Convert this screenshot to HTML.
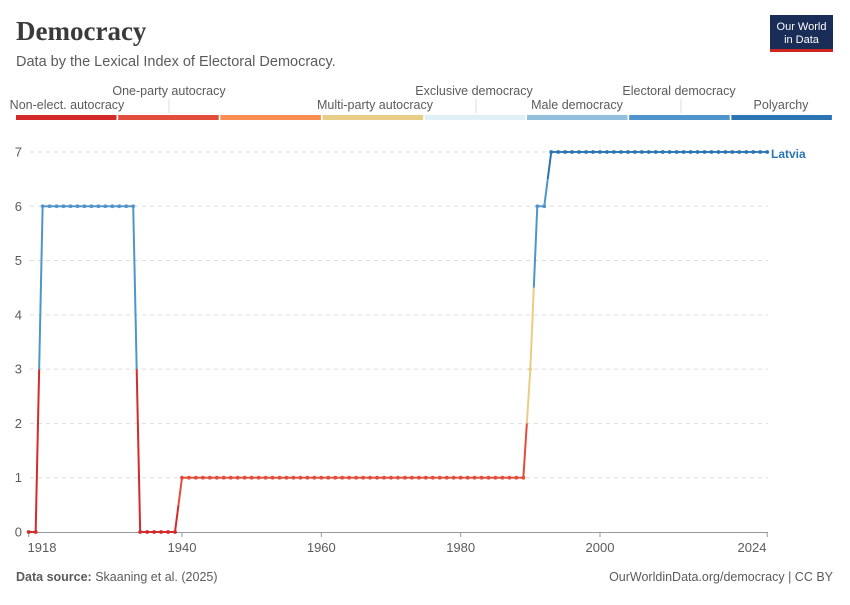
<!DOCTYPE html>
<html><head><meta charset="utf-8"><style>
body{margin:0;background:#fff;}
svg text{font-family:"Liberation Sans",sans-serif;}
</style></head><body>
<svg width="850" height="600" viewBox="0 0 850 600">
<text x="16" y="40" font-family="Liberation Serif" font-size="27" font-weight="bold" fill="#3a3a3a" style="font-family:'Liberation Serif',serif">Democracy</text>
<text x="16" y="66" font-size="14.5" fill="#5b5b5b">Data by the Lexical Index of Electoral Democracy.</text>
<g>
<rect x="770" y="15" width="63" height="37" fill="#1a2d57"/>
<rect x="770" y="49" width="63" height="3" fill="#ce261e"/>
<text x="801.5" y="30" font-size="11" fill="#fff" text-anchor="middle">Our World</text>
<text x="801.5" y="43" font-size="11" fill="#fff" text-anchor="middle">in Data</text>
</g>
<g id="legend"></g>
<g id="grid"></g>
<g id="yaxis"></g>
<g id="xaxis"></g>
<g id="series"></g>
<text x="771" y="158" font-size="12" font-weight="bold" fill="#2c75b4">Latvia</text>
<text x="16" y="581" font-size="12.5" fill="#5b5b5b"><tspan font-weight="bold">Data source:</tspan> Skaaning et al. (2025)</text>
<text x="833" y="581" font-size="12.5" fill="#5b5b5b" text-anchor="end">OurWorldinData.org/democracy | CC BY</text>
</svg>
<script>
const years=[];for(let y=1918;y<=2024;y++)years.push(y);
const values=[
0,0,
6,6,6,6,6,6,6,6,6,6,6,6,6,6,
0,0,0,0,0,0,
1,1,1,1,1,1,1,1,1,1,
1,1,1,1,1,1,1,1,1,1,
1,1,1,1,1,1,1,1,1,1,
1,1,1,1,1,1,1,1,1,1,
1,1,1,1,1,1,1,1,1,1,
3,
6,6,
7,7,7,7,7,7,7,7,7,7,
7,7,7,7,7,7,7,7,7,7,
7,7,7,7,7,7,7,7,7,7,
7,7];
const categories=["Non-elect. autocracy","One-party autocracy","Multi-party autocracy","Exclusive democracy","Male democracy","Electoral democracy","Polyarchy"];
const yTicks=[0,1,2,3,4,5,6,7];
const xTicks=[1918,1940,1960,1980,2000,2024];
const colors=["#d42b2a","#e34d3b","#f98e52","#e8cd86","#dff1f7","#92c0dc","#4f95cb","#2c75b4"];
const NS="http://www.w3.org/2000/svg";
const X=y=>28.7+(y-1918)*6.967, Y=v=>532-v*54.29;
function mk(tag,attrs,parent){const e=document.createElementNS(NS,tag);for(const k in attrs)e.setAttribute(k,attrs[k]);document.getElementById(parent).appendChild(e);return e;}
for(let i=0;i<8;i++){const r=mk('rect',{x:16+i*102.2,y:115,width:100.5,height:5,fill:colors[i]},'legend');

}
const lpos=[[67,109],[169,95],[375,109],[474,95],[577,109],[679,95],[781,109]];
categories.forEach((c,i)=>{const t=mk('text',{x:lpos[i][0],y:lpos[i][1],'font-size':12.5,fill:'#5b5b5b','text-anchor':'middle'},'legend');t.textContent=c;


if(lpos[i][1]==95){const l=mk('line',{x1:lpos[i][0]+(i==1?0:2),x2:lpos[i][0]+(i==1?0:2),y1:99,y2:113,stroke:'#ddd'},'legend');

}});
yTicks.forEach(v=>{if(v>0){const g=mk('line',{x1:30,x2:768,y1:Y(v),y2:Y(v),stroke:'#ddd','stroke-dasharray':'4,4'},'grid');

}
const t=mk('text',{x:22,y:Y(v)+4.5,'font-size':13,fill:'#5b5b5b','text-anchor':'end'},'yaxis');t.textContent=v;

});
const ax=mk('line',{x1:28,x2:768,y1:532.5,y2:532.5,stroke:'#999'},'xaxis');


xTicks.forEach(y=>{const x=X(y);const tk=mk('line',{x1:x,x2:x,y1:532,y2:537,stroke:'#999'},'xaxis');


const t=mk('text',{x:y==1918?42:(y==2024?752:x),y:552,'font-size':13,fill:'#5b5b5b','text-anchor':'middle'},'xaxis');t.textContent=y;

});
for(let i=0;i<years.length-1;i++){const x0=X(years[i]),x1=X(years[i+1]),v0=values[i],v1=values[i+1];
const xm=(x0+x1)/2,vm=(v0+v1)/2;
const a=mk('line',{x1:x0,y1:Y(v0),x2:xm,y2:Y(vm),stroke:colors[v0],'stroke-width':2},'series');


const b=mk('line',{x1:xm,y1:Y(vm),x2:x1,y2:Y(v1),stroke:colors[v1],'stroke-width':2},'series');

}
years.forEach((y,i)=>{const c=mk('circle',{cx:X(y),cy:Y(values[i]),r:1.9,fill:colors[values[i]]},'series');

});
</script>
</body></html>
